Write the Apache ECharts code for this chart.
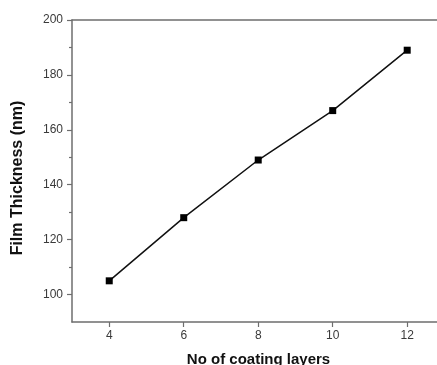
<!DOCTYPE html>
<html>
<head>
<meta charset="utf-8">
<script src="https://cdn.jsdelivr.net/npm/echarts@6/dist/echarts.min.js"></script>
<style>
  html, body { margin: 0; padding: 0; background: #fff; }
  #chart { width: 437px; height: 365px; }
</style>
</head>
<body>
<div id="chart"></div>
<script>
const layers = [4, 6, 8, 10, 12]
const thickness = [105, 128, 149, 167, 189]
const xTicks = [4, 6, 8, 10, 12]
const yTicks = [100, 120, 140, 160, 180, 200]
const yMinorTicks = [110, 130, 150, 170, 190]

const chart = echarts.init(document.getElementById('chart'))

const axisColor = '#6e6e6e'
const labelColor = '#3a3a3a'
const font = 'Liberation Sans, Arial, sans-serif'

const option = {
  animation: false,
  grid: { left: 72, right: 0, top: 20, bottom: 43, containLabel: false, outerBoundsMode: 'none' },
  xAxis: [
    {
      type: 'value',
      min: 3,
      max: 12.8,
      name: 'No of coating layers',
      nameLocation: 'middle',
      nameGap: 30,
      nameTextStyle: { fontFamily: font, fontSize: 15, fontWeight: 'bold', color: '#111', padding: [0, 0, 0, 8] },
      axisLine: { show: true, lineStyle: { color: axisColor, width: 1.5 } },
      axisTick: { show: true, inside: false, length: 5, customValues: xTicks, lineStyle: { color: axisColor, width: 1.2 } },
      axisLabel: { customValues: xTicks, margin: 8, fontFamily: font, fontSize: 12, color: labelColor },
      splitLine: { show: false }
    },
    {
      type: 'value',
      position: 'top',
      min: 3,
      max: 12.8,
      axisLine: { show: true, lineStyle: { color: axisColor, width: 1.5 } },
      axisTick: { show: false },
      axisLabel: { show: false },
      splitLine: { show: false }
    }
  ],
  yAxis: [
    {
      type: 'value',
      min: 90,
      max: 200,
      name: 'Film Thickness (nm)',
      nameLocation: 'middle',
      nameGap: 46,
      nameTextStyle: { fontFamily: font, fontSize: 16, fontWeight: 'bold', color: '#111', padding: [0, 14, 0, 0] },
      axisLine: { show: true, lineStyle: { color: axisColor, width: 1.5 } },
      axisTick: { show: true, inside: false, length: 5, customValues: yTicks, lineStyle: { color: axisColor, width: 1.2 } },
      axisLabel: { customValues: yTicks, margin: 9, fontFamily: font, fontSize: 12, color: labelColor },
      splitLine: { show: false }
    },
    {
      type: 'value',
      position: 'left',
      min: 90,
      max: 200,
      axisLine: { show: false },
      axisTick: { show: true, inside: false, length: 3, customValues: yMinorTicks, lineStyle: { color: axisColor, width: 1.2 } },
      axisLabel: { show: false },
      splitLine: { show: false }
    }
  ],
  series: [
    {
      type: 'line',
      data: layers.map((x, i) => [x, thickness[i]]),
      symbol: 'rect',
      symbolSize: 7,
      lineStyle: { color: '#111', width: 1.5 },
      itemStyle: { color: '#000' }
    }
  ]
}

chart.setOption(option)
</script>
</body>
</html>
